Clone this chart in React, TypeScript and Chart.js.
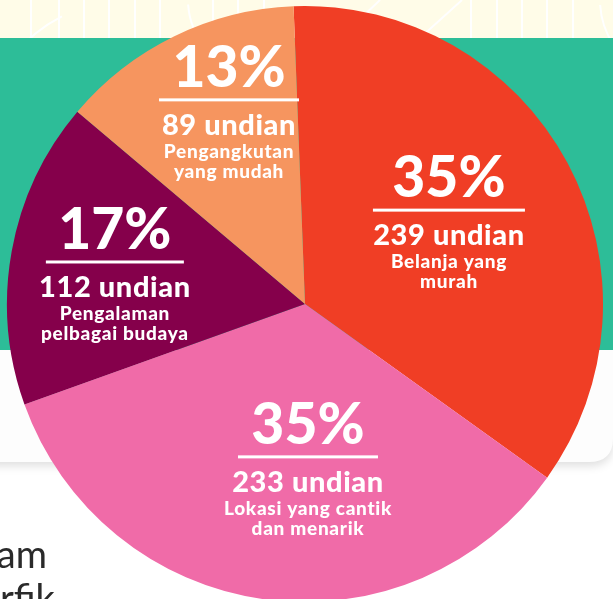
import React, { useEffect, useRef } from "react";
import { Chart, registerables } from "chart.js";

Chart.register(...registerables);

// ---- data ----
const categories = [
  "Belanja yang murah",
  "Lokasi yang cantik dan menarik",
  "Pengalaman pelbagai budaya",
  "Pengangkutan yang mudah",
];
const votes = [239, 233, 112, 89];
const percentLabels = ["35%", "35%", "17%", "13%"];
const countLabels = ["239 undian", "233 undian", "112 undian", "89 undian"];
const descLines = [
  ["Belanja yang", "murah"],
  ["Lokasi yang cantik", "dan menarik"],
  ["Pengalaman", "pelbagai budaya"],
  ["Pengangkutan", "yang mudah"],
];

// ---- styles / layout ----
const sliceColors = ["#F03E25", "#F06BA8", "#85004B", "#F6955F"];
const labelAnchors = [
  [0.483, -0.315],
  [0.01, 0.513],
  [-0.638, -0.141],
  [-0.255, -0.685],
];
const underlineWidths = [152, 140, 138, 140];
const patternLinesX = [31, 59, 84, 109, 135, 160, 213, 238, 264, 471, 497, 522, 547, 573];

const FONT = "Lato, 'Noto Sans', sans-serif";

const backgroundPlugin = {
  id: "pageBackground",
  beforeDraw(chart: any) {
    const ctx = chart.ctx as CanvasRenderingContext2D;
    const W = chart.width;
    const H = chart.height;
    ctx.save();
    ctx.fillStyle = "#ffffff";
    ctx.fillRect(0, 0, W, H);

    // cream strip with line pattern
    ctx.fillStyle = "#FFFCE8";
    ctx.fillRect(0, 0, W, 40);
    ctx.strokeStyle = "#ffffff";
    ctx.lineWidth = 2;
    ctx.beginPath();
    patternLinesX.forEach((x) => {
      ctx.moveTo(x, 0);
      ctx.lineTo(x, 38);
    });
    ctx.stroke();
    ctx.beginPath();
    ctx.arc(130, 150, 150, Math.PI * 1.08, Math.PI * 1.35);
    ctx.stroke();
    ctx.beginPath();
    ctx.arc(260, 0, 72, Math.PI * 0.55, Math.PI * 0.98);
    ctx.stroke();
    ctx.beginPath();
    ctx.moveTo(340, 38);
    ctx.lineTo(380, 0);
    ctx.moveTo(420, 38);
    ctx.lineTo(462, 0);
    ctx.stroke();
    ctx.beginPath();
    ctx.arc(680, 0, 80, Math.PI * 0.55, Math.PI * 0.98);
    ctx.stroke();

    // white card with shadow
    ctx.save();
    ctx.shadowColor = "rgba(0,0,0,0.13)";
    ctx.shadowBlur = 10;
    ctx.shadowOffsetY = 4;
    ctx.fillStyle = "#FDFDFD";
    ctx.beginPath();
    const r = 24;
    const x0 = -40, y0 = 300, x1 = 613, y1 = 462;
    ctx.moveTo(x0, y0);
    ctx.lineTo(x1, y0);
    ctx.lineTo(x1, y1 - r);
    ctx.quadraticCurveTo(x1, y1, x1 - r, y1);
    ctx.lineTo(x0, y1);
    ctx.closePath();
    ctx.fill();
    ctx.restore();

    // teal band
    ctx.fillStyle = "#2DBD98";
    ctx.fillRect(0, 38, W, 312);

    // body text peeking out
    ctx.fillStyle = "#2a2a2a";
    ctx.font = `38px ${FONT}`;
    ctx.textBaseline = "alphabetic";
    ctx.textAlign = "right";
    ctx.fillText("am", 47, 568);
    ctx.textAlign = "left";
    ctx.fillText("rfik", 0, 612);
    ctx.restore();
  },
};

const labelPlugin = {
  id: "sliceLabels",
  afterDatasetsDraw(chart: any) {
    const ctx = chart.ctx as CanvasRenderingContext2D;
    const meta = chart.getDatasetMeta(0);
    ctx.save();
    ctx.fillStyle = "#ffffff";
    ctx.textAlign = "center";
    ctx.textBaseline = "alphabetic";
    meta.data.forEach((arc: any, i: number) => {
      const { x, y, outerRadius } = arc.getProps(["x", "y", "outerRadius"], true);
      const ux = x + labelAnchors[i][0] * outerRadius;
      const uy = y + labelAnchors[i][1] * outerRadius;
      (ctx as any).letterSpacing = "0px";
      ctx.font = `900 57px ${FONT}`;
      ctx.fillText(percentLabels[i], ux, uy - 13);
      const w = underlineWidths[i];
      ctx.fillRect(ux - w / 2, uy - 1.5, w, 3);
      ctx.font = `900 29px ${FONT}`;
      (ctx as any).letterSpacing = "0.6px";
      ctx.fillText(countLabels[i], ux, uy + 35);
      ctx.font = `900 19px ${FONT}`;
      (ctx as any).letterSpacing = "0.7px";
      descLines[i].forEach((line, j) => {
        ctx.fillText(line, ux, uy + 58 + j * 20);
      });
    });
    ctx.restore();
  },
};

export default function App() {
  const canvasRef = useRef<HTMLCanvasElement | null>(null);

  useEffect(() => {
    document.body.style.margin = "0";
    const canvas = canvasRef.current;
    if (!canvas) return;
    const chart = new Chart(canvas, {
      type: "pie",
      data: {
        labels: categories,
        datasets: [
          {
            data: votes,
            backgroundColor: sliceColors,
            borderWidth: 0,
          },
        ],
      },
      options: {
        responsive: false,
        animation: false,
        devicePixelRatio: 1,
        rotation: -2.2,
        layout: { padding: { left: 7, right: 10, top: 6, bottom: 8 } },
        plugins: {
          legend: { display: false },
          tooltip: { enabled: false },
        },
      },
      plugins: [backgroundPlugin, labelPlugin],
    });
    return () => chart.destroy();
  }, []);

  return (
    <div
      style={{
        position: "absolute",
        left: 0,
        top: 0,
        width: 613,
        height: 599,
        overflow: "hidden",
        background: "#ffffff",
      }}
    >
      <canvas ref={canvasRef} width={613} height={610} style={{ display: "block" }} />
    </div>
  );
}
